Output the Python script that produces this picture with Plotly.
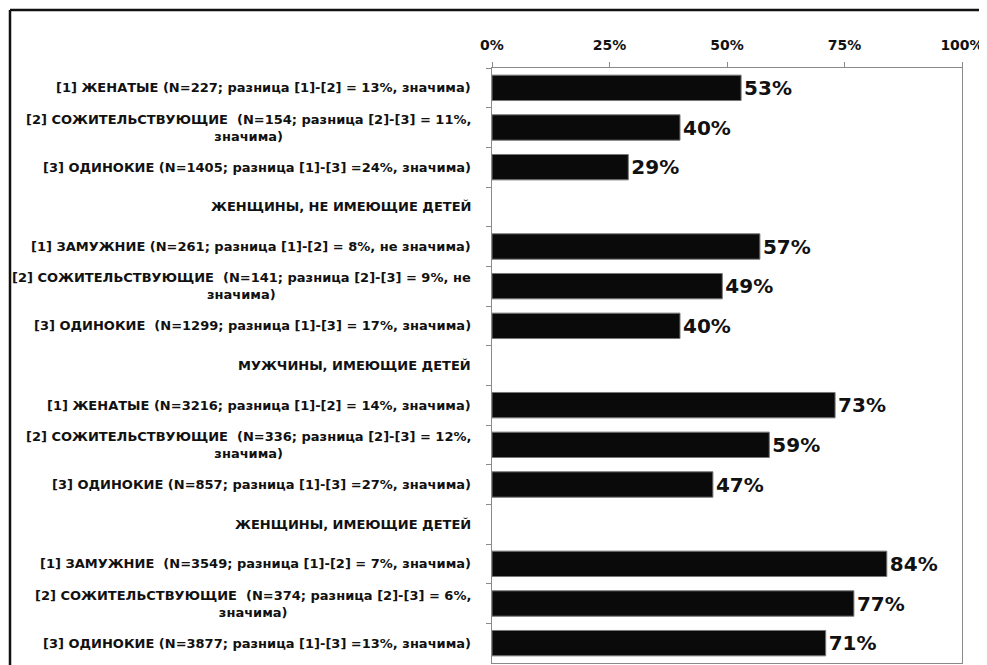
import plotly.graph_objects as go

labels = [
    "[1] ЖЕНАТЫЕ (N=227; разница [1]-[2] = 13%, значима)",
    "[2] СОЖИТЕЛЬСТВУЮЩИЕ  (N=154; разница [2]-[3] = 11%,<br>значима)",
    "[3] ОДИНОКИЕ (N=1405; разница [1]-[3] =24%, значима)",
    "ЖЕНЩИНЫ, НЕ ИМЕЮЩИЕ ДЕТЕЙ",
    "[1] ЗАМУЖНИЕ (N=261; разница [1]-[2] = 8%, не значима)",
    "[2] СОЖИТЕЛЬСТВУЮЩИЕ  (N=141; разница [2]-[3] = 9%, не<br>значима)",
    "[3] ОДИНОКИЕ  (N=1299; разница [1]-[3] = 17%, значима)",
    "МУЖЧИНЫ, ИМЕЮЩИЕ ДЕТЕЙ",
    "[1] ЖЕНАТЫЕ (N=3216; разница [1]-[2] = 14%, значима)",
    "[2] СОЖИТЕЛЬСТВУЮЩИЕ  (N=336; разница [2]-[3] = 12%,<br>значима)",
    "[3] ОДИНОКИЕ (N=857; разница [1]-[3] =27%, значима)",
    "ЖЕНЩИНЫ, ИМЕЮЩИЕ ДЕТЕЙ",
    "[1] ЗАМУЖНИЕ  (N=3549; разница [1]-[2] = 7%, значима)",
    "[2] СОЖИТЕЛЬСТВУЮЩИЕ  (N=374; разница [2]-[3] = 6%,<br>значима)",
    "[3] ОДИНОКИЕ (N=3877; разница [1]-[3] =13%, значима)",
]
values = [53, 40, 29, None, 57, 49, 40, None, 73, 59, 47, None, 84, 77, 71]
tick_vals = [0, 25, 50, 75, 100]
tick_text = ["0%", "25%", "50%", "75%", "100%"]

FONT = "DejaVu Sans"

fig = go.Figure()
fig.add_trace(go.Bar(
    y=labels,
    x=values,
    orientation="h",
    marker=dict(color="#0a0a0a", line=dict(color="#777777", width=1)),
    text=[f"{v}%" if v is not None else "" for v in values],
    textposition="outside",
    cliponaxis=False,
    textfont=dict(family=FONT, size=20, color="#111111", weight="bold"),
    hoverinfo="skip",
))

for lab in labels:
    fig.add_annotation(
        x=0, xref="paper", xshift=-19, y=lab, yref="y",
        text=lab, showarrow=False, xanchor="right", yanchor="middle",
        align="center",
        font=dict(family=FONT, size=13, color="#111111", weight="bold"),
    )

# page body adds an 8px offset, so the figure is 8px smaller than the window
W, H = 979, 657
L, R, T, B = 484, 25, 60, 2
pw, ph = W - L - R, H - T - B

def px_x(x):
    return (x - L) / pw

def px_y(y):
    return (H - B - y) / ph

# outer frame (top and left edges visible)
fig.add_shape(type="line", xref="paper", yref="paper",
              x0=px_x(2), x1=px_x(W), y0=px_y(2), y1=px_y(2),
              line=dict(color="#111111", width=2.5))
fig.add_shape(type="line", xref="paper", yref="paper",
              x0=px_x(2), x1=px_x(2), y0=px_y(2), y1=px_y(H),
              line=dict(color="#111111", width=2.5))

fig.update_layout(
    width=W, height=H,
    margin=dict(l=L, r=R, t=T, b=B),
    paper_bgcolor="white", plot_bgcolor="white",
    showlegend=False,
    bargap=0.36,
    xaxis=dict(
        side="top", range=[0, 100], tickvals=tick_vals, ticktext=tick_text,
        showgrid=False, zeroline=False,
        showline=True, mirror=True, linecolor="#8a8a8a", linewidth=1,
        ticks="outside", ticklen=5, tickcolor="#8a8a8a",
        ticklabelstandoff=6,
        tickfont=dict(family=FONT, size=14, color="#111111", weight="bold"),
    ),
    yaxis=dict(
        categoryorder="array", categoryarray=labels, autorange="reversed",
        showticklabels=False, showgrid=False, zeroline=False,
        showline=True, mirror=True, linecolor="#8a8a8a", linewidth=1,
        ticks="outside", ticklen=5, tickcolor="#8a8a8a", tickson="boundaries",
    ),
)

fig.write_html("out.html")
